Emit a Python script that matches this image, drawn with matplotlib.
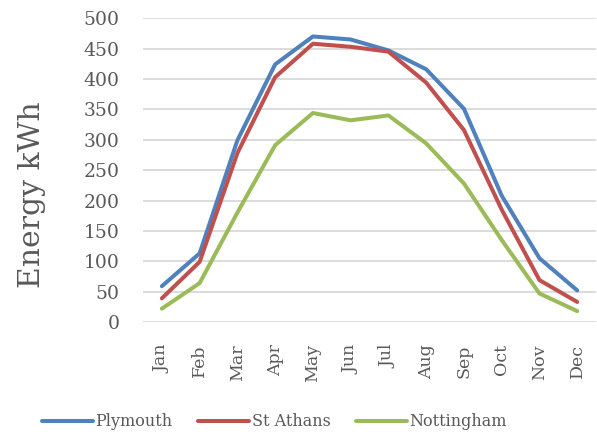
import numpy as np
import matplotlib.pyplot as plt

months = ['Jan', 'Feb', 'Mar', 'Apr', 'May', 'Jun', 'Jul', 'Aug', 'Sep', 'Oct', 'Nov', 'Dec']
plymouth = [59, 113, 299, 424, 470, 465, 447, 416, 351, 208, 105, 52]
st_athans = [39, 99, 278, 403, 458, 453, 445, 394, 316, 185, 69, 33]
nottingham = [22, 64, 180, 291, 344, 332, 340, 294, 228, 135, 47, 18]

plt.rcParams['font.family'] = ['DejaVu Serif']
txt = '#595959'

fig = plt.figure(figsize=(5.97, 4.34), dpi=100)
ax = fig.add_axes([0.2395, 0.258, 0.759, 0.700])
x = np.arange(len(months))
ax.plot(x, plymouth, color='#4F81BD', lw=2.9, label='Plymouth', solid_capstyle='round')
ax.plot(x, st_athans, color='#C0504D', lw=2.9, label='St Athans', solid_capstyle='round')
ax.plot(x, nottingham, color='#9BBB59', lw=2.9, label='Nottingham', solid_capstyle='round')

ax.set_xlim(-0.5, 11.5)
ax.set_ylim(0, 500)
ax.set_yticks(range(0, 501, 50))
ax.set_xticks(x)
ax.set_xticklabels(months, rotation=90)
ax.tick_params(length=0, colors=txt, labelsize=12.5)
ax.tick_params(axis='y', labelsize=13.5, pad=17)
ax.tick_params(axis='x', pad=16)
ax.grid(axis='y', color='#D9D9D9', lw=1.3)
ax.set_axisbelow(True)
for s in ax.spines.values():
    s.set_visible(False)
ax.set_ylabel('Energy kWh', fontsize=21.5, color=txt)
ax.yaxis.set_label_coords(-0.214, 0.418)

fig.legend(loc='center', bbox_to_anchor=(0.46, 0.028), ncol=3, frameon=False,
           fontsize=11.5, labelcolor=txt, handlelength=3.2, handletextpad=0.15, columnspacing=1.6)
fig.savefig('out.png', dpi=100)
